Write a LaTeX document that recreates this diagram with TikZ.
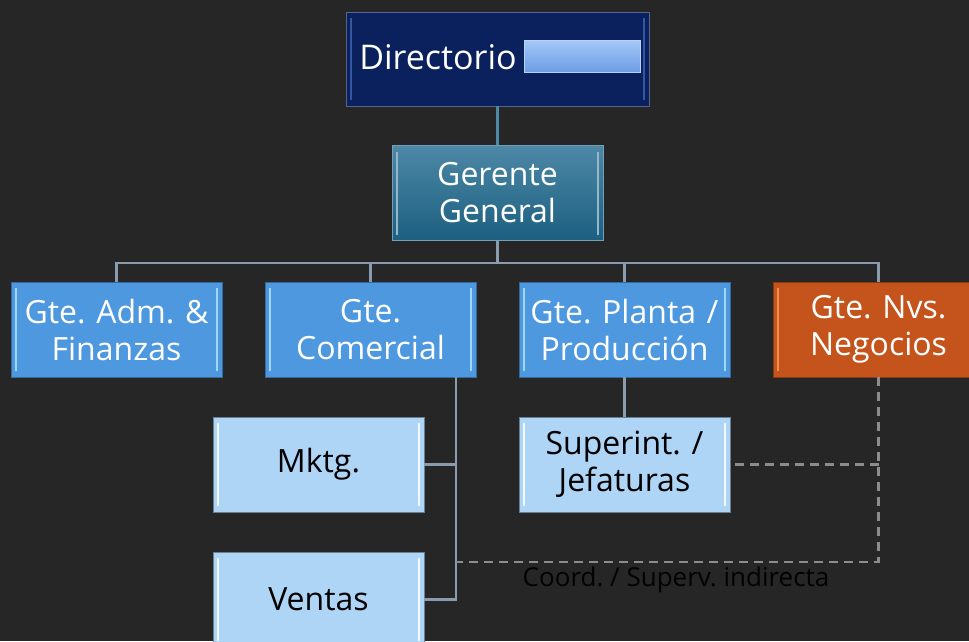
\documentclass[tikz,border=0pt]{standalone}
\usepackage{fontspec}
\setmainfont{Open Sans}
\usetikzlibrary{positioning,calc}
\frenchspacing

\definecolor{bgcol}{HTML}{262626}
\definecolor{navycol}{HTML}{0B215E}
\definecolor{navyedge}{HTML}{3556A0}
\definecolor{ggtop}{HTML}{4D88A6}
\definecolor{ggbot}{HTML}{1C5F80}
\definecolor{bluecol}{HTML}{4E98DF}
\definecolor{blueedge}{HTML}{9ED8F8}
\definecolor{orangecol}{HTML}{C4541B}
\definecolor{orangeedge}{HTML}{F09050}
\definecolor{lightcol}{HTML}{AED4F6}
\definecolor{lightedge}{HTML}{F2FAFF}
\definecolor{bartop}{HTML}{A4C8F6}
\definecolor{barbot}{HTML}{6E9DE6}
\definecolor{linkcol}{HTML}{8A9BAE}
\definecolor{dashcol}{HTML}{8C8C8C}

\begin{document}
\begin{tikzpicture}[x=1pt, y=-1pt,
    box/.style = {minimum width=211pt, minimum height=95pt, inner sep=0pt,
                  text width=209pt, align=center,
                  font=\fontsize{32}{37}\selectfont},
    bevel/.style = {path picture={
        \draw[#1, line width=2.5pt]
          ([shift={(5pt,6pt)}]path picture bounding box.south west) --
          ([shift={(5pt,-6pt)}]path picture bounding box.north west);
        \draw[#1, line width=2.5pt]
          ([shift={(-5pt,6pt)}]path picture bounding box.south east) --
          ([shift={(-5pt,-6pt)}]path picture bounding box.north east);}},
    topbox/.style = {box, minimum width=303pt, minimum height=94pt,
                     fill=navycol, draw=navycol!70!white, bevel=navyedge},
    ggbox/.style = {box, top color=ggtop, bottom color=ggbot,
                    draw=ggtop!80!white, text=white, bevel=ggtop!60!white},
    mbox/.style = {box, fill=bluecol, draw=bluecol!70!black, text=white,
                   bevel=blueedge},
    nbox/.style = {box, fill=orangecol, draw=orangecol!70!black, text=white,
                   bevel=orangeedge},
    subbox/.style = {box, fill=lightcol, draw=lightcol!60!black, text=black,
                     bevel=lightedge},
    bar/.style = {minimum width=116pt, minimum height=32pt, inner sep=0pt,
                  top color=bartop, bottom color=barbot, draw=bartop!80!white},
    link/.style = {draw=linkcol, line width=2.2pt},
    dlink/.style = {draw=dashcol, line width=2.5pt, dash pattern=on 9pt off 6pt}
  ]

  \useasboundingbox[fill=bgcol] (0,0) rectangle (969,641);

  % top levels
  \node[topbox] (dir) at (497.5,59) {};
  \node[text=white, font=\fontsize{34}{40}\selectfont] (dirtxt) at (438,57) {Directorio};
  \node[bar] (dirbar) at (582,56) {};

  \node[ggbox] (gg) at (497.5,193) {Gerente\\General};

  % managers
  \node[mbox] (adm) at (116.5,329.5) {Gte. Adm. \&\\Finanzas};
  \node[mbox] (com) at (370.5,329.5) {Gte.\\Comercial};
  \node[mbox] (pla) at (624.5,329.5) {Gte. Planta /\\Producción};
  \node[nbox] (nvs) at (878.5,329.5) {Gte. Nvs.\\Negocios};

  % sub units
  \node[subbox] (mkt) at (318.5,464.5) {Mktg.};
  \node[subbox] (ven) at (318.5,599.5) {Ventas};
  \node[subbox] (sup) at (624.5,464.5) {Superint. /\\Jefaturas};

  % connectors
  \draw[link, draw=ggtop] (dir.south) -- (gg.north);
  \coordinate (bus) at (497.5,263);
  \draw[link] (gg.south) -- (bus);
  \foreach \n in {adm,com,pla,nvs}
    \draw[link] (\n.north) |- (bus);

  \coordinate (ctrunk) at (456,377);
  \draw[link] (ctrunk) |- (ven.east);
  \draw[link] (mkt.east) -- (mkt.east -| ctrunk);
  \draw[link] (pla.south) -- (sup.north);

  % indirect lines
  \coordinate (dcorner) at (456,562);
  \draw[dlink] (nvs.south) |- (dcorner);
  \draw[dlink] ([xshift=5pt]sup.east) -- (sup.east -| nvs.south);

  \node[text=black!95!bgcol, font=\fontsize{26}{30}\selectfont] (note)
    at (676,580) {Coord. / Superv. indirecta};

\end{tikzpicture}
\end{document}
